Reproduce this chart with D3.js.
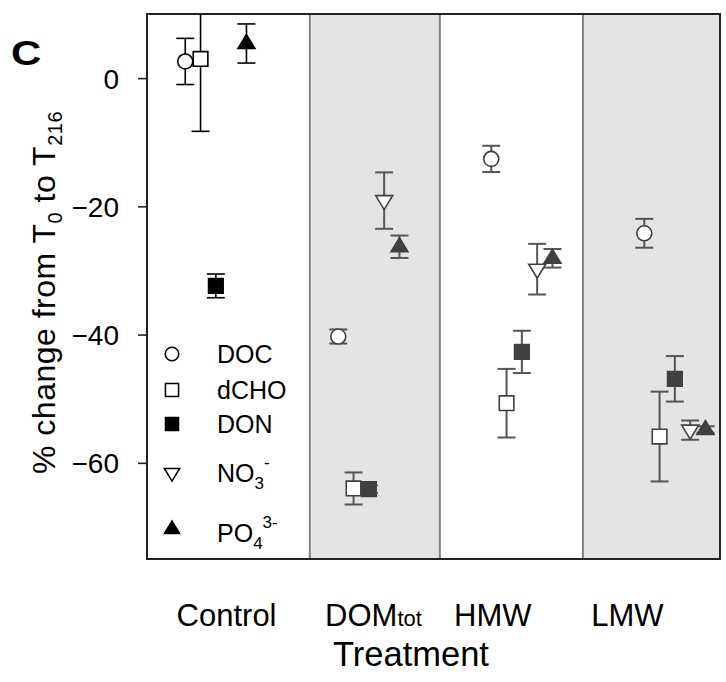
<!DOCTYPE html>
<html>
<head>
<meta charset="utf-8">
<script src="https://cdn.jsdelivr.net/npm/d3@7"></script>
<style>
  body { margin: 0; background: #fff; }
  svg text { font-family: "Liberation Sans", Arial, sans-serif; fill: #000; }
</style>
</head>
<body>
<div id="chart"></div>
<script>
// treatments along the x axis (group index 1..4)
var treatments = ['Control', 'DOMtot', 'HMW', 'LMW'];
var series = ['DOC', 'dCHO', 'DON', 'NO3', 'PO4'];

// mean % change from T0 to T216, one value per treatment
var docMean  = [2.6, -40.3, -12.6, -24.2];
var dchoMean = [3.0, -64.0, -50.7, -55.9];
var donMean  = [-32.4, -64.1, -42.7, -46.9];
var no3Mean  = [null, -19.1, -29.8, -54.9];
var po4Mean  = [5.4, -26.3, -28.1, -54.8];

// error (+/-)
var docErr  = [3.6, 1.1, 2.05, 2.25];
var dchoErr = [11.3, 2.5, 5.35, 7.0];
var donErr  = [1.85, 0.6, 3.3, 3.55];
var no3Err  = [null, 4.4, 3.95, 1.5];
var po4Err  = [3.05, 1.75, 1.45, 0.5];

// grey backgrounds, in x-axis units
var shadedBands = [[1.614, 2.464], [3.399, 4.295]];

var yTicks = [0, -20, -40, -60];

var width = 726,
    height = 682,
    plot = { left: 147, right: 720, top: 14, bottom: 559 };

var x = d3.scaleLinear().domain([0.55, 4.295]).range([plot.left, plot.right]);
var y = d3.scaleLinear().domain([-75, 10]).range([plot.bottom, plot.top]);

var means = [docMean, dchoMean, donMean, no3Mean, po4Mean];
var errs = [docErr, dchoErr, donErr, no3Err, po4Err];
var offsets = [-0.2, -0.1, 0, 0.1, 0.2];
var shapes = ['circle', 'square', 'square', 'tri-down', 'tri-up'];
var filled = [false, false, true, false, true];

var points = [];
series.forEach(function (s, si) {
    treatments.forEach(function (t, ti) {
        if (means[si][ti] == null) return;
        points.push({ s: si, g: ti, xv: ti + 1 + offsets[si], m: means[si][ti], e: errs[si][ti] });
    });
});

function shapePath(shape, cx, cy, k) {
    k = k || 1;
    if (shape == 'circle') {
        var r = 7.5 * k;
        return 'M' + (cx - r) + ',' + cy + 'a' + r + ',' + r + ' 0 1,0 ' + (2 * r) + ',0a' + r + ',' + r + ' 0 1,0 ' + (-2 * r) + ',0Z';
    }
    if (shape == 'square') {
        var h = 7.3 * k;
        return 'M' + (cx - h) + ',' + (cy - h) + 'h' + (2 * h) + 'v' + (2 * h) + 'h' + (-2 * h) + 'Z';
    }
    var w = 8.5 * k, a = 5 * k, b = 9 * k;
    if (shape == 'tri-down') {
        return 'M' + (cx - w) + ',' + (cy - a) + 'h' + (2 * w) + 'L' + cx + ',' + (cy + b) + 'Z';
    }
    return 'M' + (cx - w) + ',' + (cy + a) + 'h' + (2 * w) + 'L' + cx + ',' + (cy - b) + 'Z';
}

var svg = d3.select('#chart').append('svg')
    .attr('width', width)
    .attr('height', height);

svg.append('defs').append('clipPath').attr('id', 'plotClip')
    .append('rect')
    .attr('x', plot.left).attr('y', plot.top)
    .attr('width', plot.right - plot.left).attr('height', plot.bottom - plot.top);

// shaded treatment panels
svg.selectAll('.band').data(shadedBands).enter()
    .append('rect')
    .attr('class', 'band')
    .attr('x', function (d) { return x(d[0]); })
    .attr('y', plot.top)
    .attr('width', function (d) { return x(d[1]) - x(d[0]); })
    .attr('height', plot.bottom - plot.top)
    .attr('fill', '#e4e4e4');

var edges = [shadedBands[0][0], shadedBands[0][1], shadedBands[1][0]];
svg.selectAll('.bandEdge').data(edges).enter()
    .append('line')
    .attr('class', 'bandEdge')
    .attr('x1', function (d) { return x(d); })
    .attr('x2', function (d) { return x(d); })
    .attr('y1', plot.top).attr('y2', plot.bottom)
    .attr('stroke', '#808080').attr('stroke-width', 2);

// data
var plotG = svg.append('g').attr('clip-path', 'url(#plotClip)');

function markColor(d) { return d.g == 0 ? '#000' : '#404040'; }
function barColor(d) { return d.g == 0 ? '#000' : '#555'; }

var bars = plotG.selectAll('.err').data(points).enter()
    .append('g').attr('class', 'err')
    .attr('stroke', barColor)
    .attr('stroke-width', function (d) { return d.g == 0 ? 1.6 : 2; });

bars.append('line')
    .attr('x1', function (d) { return x(d.xv); })
    .attr('x2', function (d) { return x(d.xv); })
    .attr('y1', function (d) { return y(d.m + d.e); })
    .attr('y2', function (d) { return y(d.m - d.e); });
bars.append('line')
    .attr('x1', function (d) { return x(d.xv) - 9; })
    .attr('x2', function (d) { return x(d.xv) + 9; })
    .attr('y1', function (d) { return y(d.m + d.e); })
    .attr('y2', function (d) { return y(d.m + d.e); });
bars.append('line')
    .attr('x1', function (d) { return x(d.xv) - 9; })
    .attr('x2', function (d) { return x(d.xv) + 9; })
    .attr('y1', function (d) { return y(d.m - d.e); })
    .attr('y2', function (d) { return y(d.m - d.e); });

plotG.selectAll('.mark').data(points).enter()
    .append('path')
    .attr('class', 'mark')
    .attr('d', function (d) { return shapePath(shapes[d.s], x(d.xv), y(d.m)); })
    .attr('fill', function (d) { return filled[d.s] ? markColor(d) : '#fff'; })
    .attr('stroke', markColor)
    .attr('stroke-width', 1.6);

// frame
svg.append('rect')
    .attr('x', plot.left).attr('y', plot.top)
    .attr('width', plot.right - plot.left).attr('height', plot.bottom - plot.top)
    .attr('fill', 'none')
    .attr('stroke', '#222').attr('stroke-width', 2);

// y axis
var yAxis = d3.axisLeft(y).tickValues(yTicks).tickSize(9).tickPadding(19).tickFormat(d3.format('d'));
var yG = svg.append('g')
    .attr('transform', 'translate(' + plot.left + ',0)')
    .call(yAxis);
yG.select('.domain').remove();
yG.selectAll('line').attr('stroke', '#222').attr('stroke-width', 1.6);
yG.selectAll('text')
    .attr('font-size', 28)
    .attr('font-family', '"Liberation Sans", Arial, sans-serif')
    .attr('fill', '#000')
    .attr('dy', '0.36em');

// x category labels
var labelPos = [1.07, 2.03, 2.81, 3.69];
var xl = svg.selectAll('.xlab').data(treatments).enter()
    .append('text')
    .attr('class', 'xlab')
    .attr('x', function (d, i) { return x(labelPos[i]); })
    .attr('y', 626)
    .attr('text-anchor', 'middle')
    .attr('font-size', 31);
xl.each(function (d) {
    var t = d3.select(this);
    if (d == 'DOMtot') {
        t.append('tspan').text('DOM');
        t.append('tspan').attr('font-size', 22).text('tot');
    } else {
        t.text(d);
    }
});

svg.append('text')
    .attr('x', 411).attr('y', 666)
    .attr('text-anchor', 'middle')
    .attr('font-size', 34.5)
    .text('Treatment');

// y title
var yt = svg.append('text')
    .attr('transform', 'translate(55,474) rotate(-90)')
    .attr('font-size', 32)
    .attr('letter-spacing', 0.5);
yt.append('tspan').text('%  change from T');
yt.append('tspan').attr('font-size', 20).attr('dy', 7).text('0');
yt.append('tspan').attr('dy', -7).text(' to T');
yt.append('tspan').attr('font-size', 20).attr('dy', 7).text('216');

// panel letter
svg.append('text')
    .attr('transform', 'translate(11,65) scale(1.2,1)')
    .attr('font-size', 35)
    .attr('font-weight', 'bold')
    .text('C');

// legend
var legendY = [354, 390, 424, 473, 529];
var lg = svg.selectAll('.leg').data(series).enter()
    .append('g').attr('class', 'leg');
lg.append('path')
    .attr('d', function (d, i) { return shapePath(shapes[i], 172, legendY[i], 0.9); })
    .attr('fill', function (d, i) { return filled[i] ? '#000' : '#fff'; })
    .attr('stroke', '#000')
    .attr('stroke-width', 1.5);
lg.append('text')
    .attr('x', 217)
    .attr('y', function (d, i) { return legendY[i] + 9 + (i == 4 ? 4 : 0); })
    .attr('font-size', 25)
    .each(function (d) {
        var t = d3.select(this);
        if (d == 'NO3') {
            t.append('tspan').text('NO');
            t.append('tspan').attr('font-size', 17).attr('dy', 7).text('3');
            t.append('tspan').attr('font-size', 17).attr('dy', -21).text('-');
        } else if (d == 'PO4') {
            t.append('tspan').text('PO');
            t.append('tspan').attr('font-size', 17).attr('dy', 7).text('4');
            t.append('tspan').attr('font-size', 17).attr('dy', -21).text('3-');
        } else {
            t.text(d);
        }
    });
</script>
</body>
</html>
